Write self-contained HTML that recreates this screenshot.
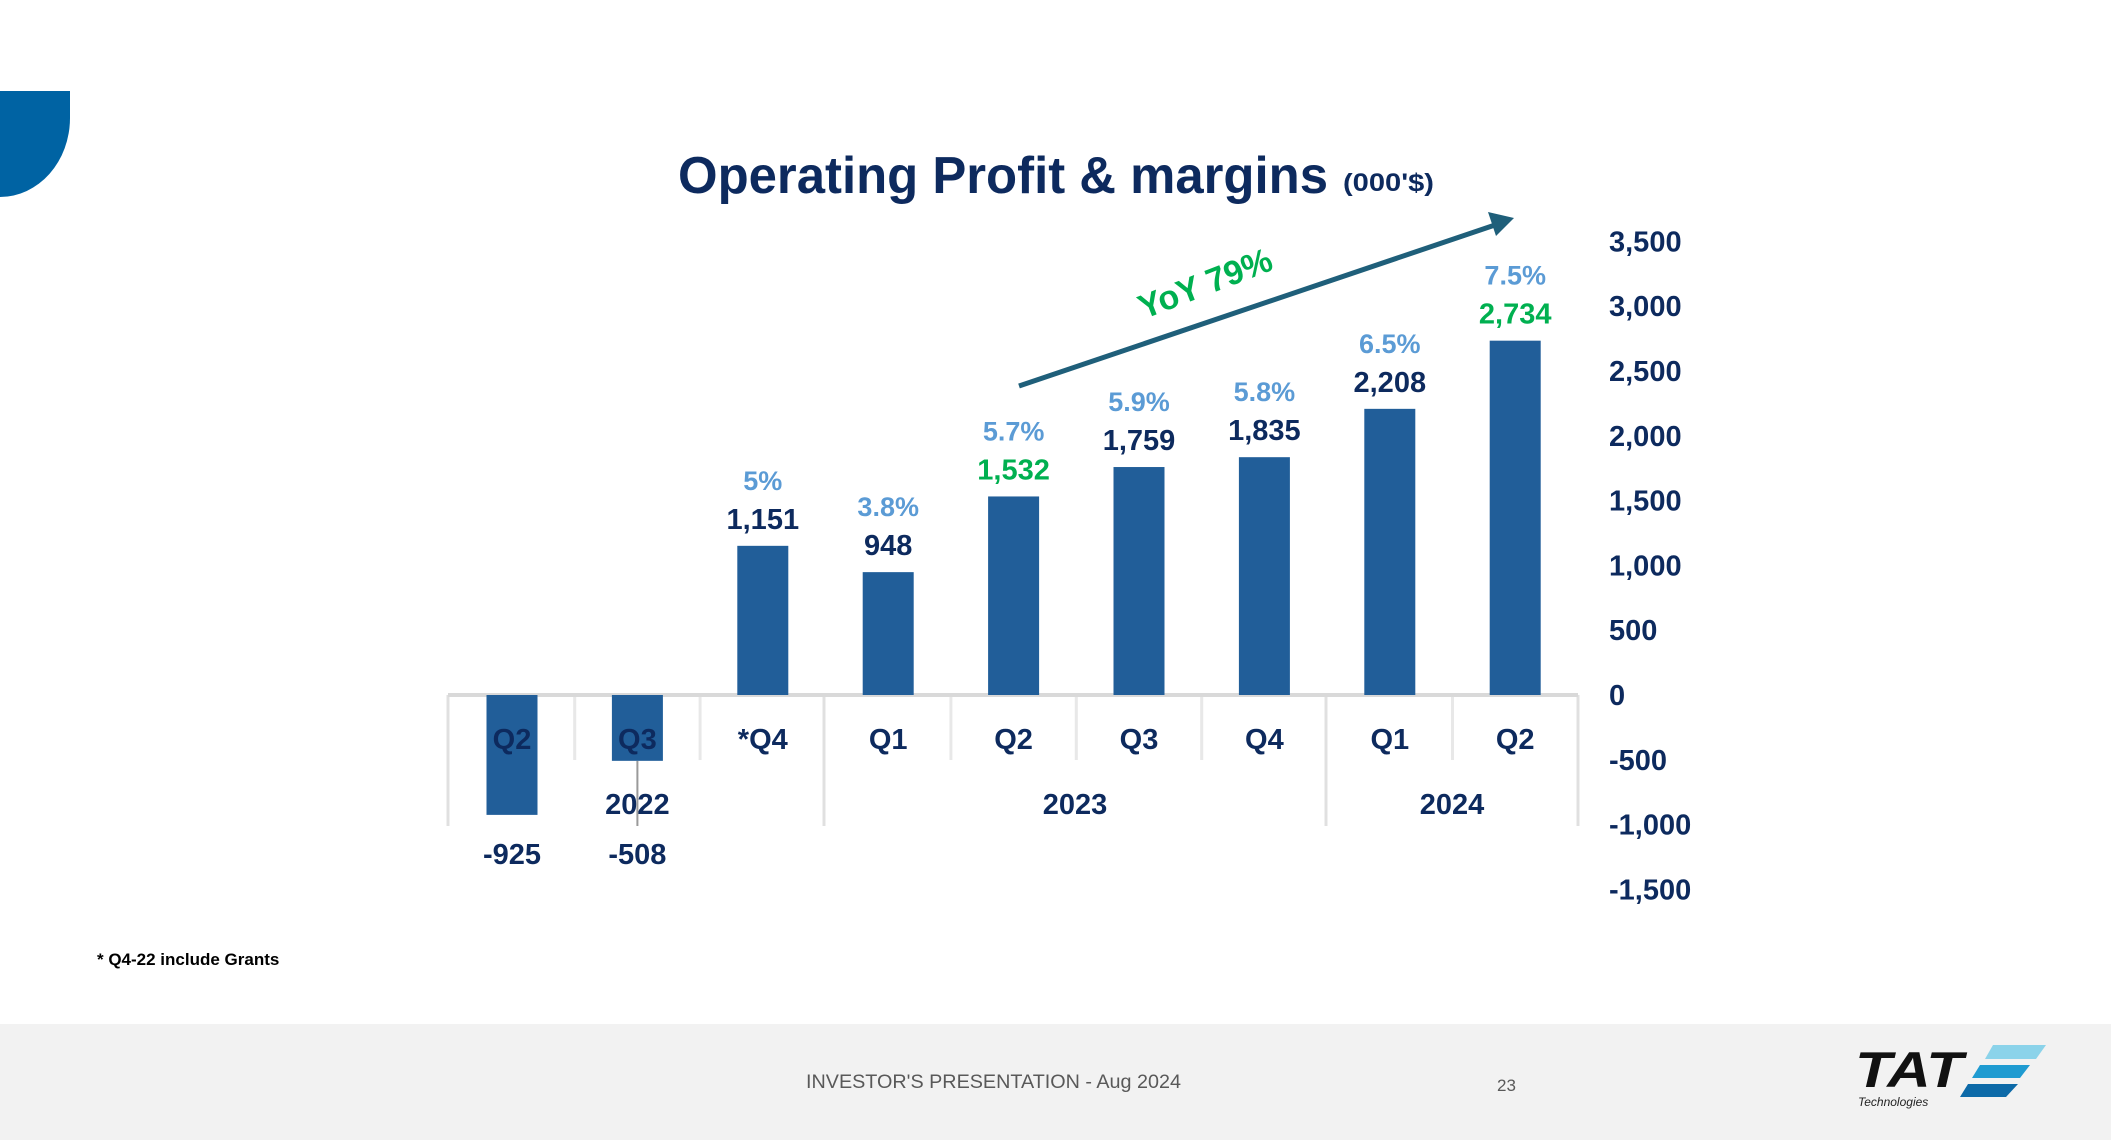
<!DOCTYPE html>
<html><head><meta charset="utf-8"><style>
html,body{margin:0;padding:0;background:#fff}
svg{display:block;font-family:"Liberation Sans",sans-serif}
</style></head><body>
<svg width="2111" height="1140" viewBox="0 0 2111 1140">
<path d="M0 91 H70 V118 A70 79 0 0 1 0 197 Z" fill="#0063a3"/>
<text x="678" y="193" font-size="52" font-weight="bold" fill="#0d2a5e" textLength="650" lengthAdjust="spacingAndGlyphs">Operating Profit &amp; margins</text>
<text x="1343" y="191" font-size="25" font-weight="bold" fill="#0d2a5e" textLength="91" lengthAdjust="spacingAndGlyphs">(000'$)</text>
<g id="chart"></g>
<line x1="1019" y1="386" x2="1495" y2="225" stroke="#1f5f7a" stroke-width="5"/>
<polygon points="1514,218 1488,212 1496,236" fill="#1f5f7a"/>
<text x="1205" y="295" font-size="34" font-weight="bold" fill="#00b050" text-anchor="middle" transform="rotate(-21 1205 283)">YoY 79%</text>
<text x="97" y="965" font-size="17" font-weight="bold" fill="#000">* Q4-22 include Grants</text>
<rect x="0" y="1024" width="2111" height="116" fill="#f2f2f2"/>
<text x="806" y="1088" font-size="19" fill="#595959" textLength="375" lengthAdjust="spacingAndGlyphs">INVESTOR'S PRESENTATION - Aug 2024</text>
<text x="1497" y="1091" font-size="17" fill="#595959">23</text>
<g>
<text x="1855" y="1087" font-size="50" font-weight="bold" font-style="italic" fill="#111" textLength="108" lengthAdjust="spacingAndGlyphs">TAT</text>
<polygon points="1993,1045 2046,1045 2036,1059 1985,1059" fill="#8bd3ea"/>
<polygon points="1980,1065 2030,1065 2020,1078 1972,1078" fill="#1f9bd1"/>
<polygon points="1968,1084 2018,1084 2006,1097 1960,1097" fill="#0d6aa8"/>
<text x="1858" y="1106" font-size="12" font-style="italic" fill="#222">Technologies</text>
</g>
</svg>
<script>
const categories=["Q2","Q3","*Q4","Q1","Q2","Q3","Q4","Q1","Q2"];
const values=[-925,-508,1151,948,1532,1759,1835,2208,2734];
const valueLabels=["-925","-508","1,151","948","1,532","1,759","1,835","2,208","2,734"];
const margins=["","","5%","3.8%","5.7%","5.9%","5.8%","6.5%","7.5%"];
const highlight=[false,false,false,false,true,false,false,false,true];
const ticks=[3500,3000,2500,2000,1500,1000,500,0,-500,-1000,-1500];
const tickLabels=["3,500","3,000","2,500","2,000","1,500","1,000","500","0","-500","-1,000","-1,500"];
const years=["2022","2023","2024"];
const NS="http://www.w3.org/2000/svg";
const g=document.getElementById('chart');
const y0=695,perUnit=64.8/500;
const yS=v=>y0-v*perUnit;
const xS=i=>512+i*125.4;
function mk(t,a){const e=document.createElementNS(NS,t);for(const k in a)e.setAttribute(k,a[k]);g.appendChild(e);return e;}
// ticks
ticks.forEach((t,i)=>{const e=mk('text',{x:1609,y:yS(t)+10,'font-size':29,'font-weight':'bold',fill:'#0d2a5e'});e.textContent=tickLabels[i];

});
// separators
[448,824,1326,1578].forEach(x=>{const e=mk('line',{x1:x,y1:695,x2:x,y2:826,stroke:'#e0e0e0','stroke-width':3});

});
for(let i=1;i<9;i++){const x=(xS(i-1)+xS(i))/2;if(Math.abs(x-824)<10||Math.abs(x-1326)<10)continue;const e=mk('line',{x1:x,y1:695,x2:x,y2:760,stroke:'#e8e8e8','stroke-width':3});

}
// axis
const ax=mk('line',{x1:448,y1:y0,x2:1578,y2:y0,stroke:'#d9d9d9','stroke-width':4});


// leader line
const ll=mk('line',{x1:xS(1),y1:yS(values[1]),x2:xS(1),y2:826,stroke:'#9a9a9a','stroke-width':2});


values.forEach((v,i)=>{
 const x=xS(i),top=Math.min(yS(v),y0),h=Math.abs(yS(v)-y0);
 const b=mk('rect',{x:x-25.5,y:top,width:51,height:h,fill:'#215e99'});
 
 
 const c=mk('text',{x:x,y:749,'font-size':29,'font-weight':'bold',fill:'#0d2a5e','text-anchor':'middle'});c.textContent=categories[i];
 
 
 const ly=v>=0?yS(v)-17:864;
 const l=mk('text',{x:x,y:ly,'font-size':29,'font-weight':'bold',fill:highlight[i]?'#00b050':'#0d2a5e','text-anchor':'middle'});l.textContent=valueLabels[i];
 
 
 if(margins[i]){const m=mk('text',{x:x,y:ly-39,'font-size':27,'font-weight':'bold',fill:'#5b9bd5','text-anchor':'middle'});m.textContent=margins[i];
 
 }
});
[[xS(1)],[(824+1326)/2],[(1326+1578)/2]].forEach((p,i)=>{const e=mk('text',{x:p[0],y:814,'font-size':29,'font-weight':'bold',fill:'#0d2a5e','text-anchor':'middle'});e.textContent=years[i];

});
</script>
</body></html>
